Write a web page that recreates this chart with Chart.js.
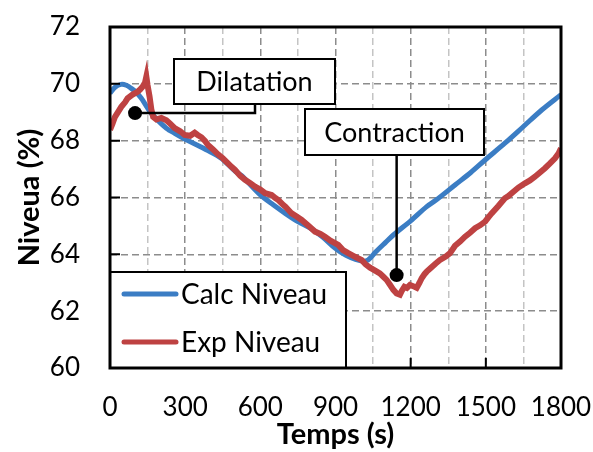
<!DOCTYPE html>
<html>
<head>
<meta charset="utf-8">
<script src="https://cdn.jsdelivr.net/npm/chart.js@4"></script>
<style>
  html, body { margin: 0; padding: 0; background: #fff; }
  #wrap { width: 593px; height: 452px; }
</style>
</head>
<body>
<div id="wrap"><canvas id="niveauChart"></canvas></div>
<script>
// --- data ---
const calcTime   = [0, 20, 44, 65, 85, 105, 125, 145, 165, 195, 225, 260, 298, 345, 391, 444, 499, 524, 599, 650, 698, 750, 798, 850, 898, 940, 980, 1010, 1030, 1060, 1100, 1131, 1200, 1264, 1300, 1377, 1440, 1497, 1576, 1649, 1723, 1800];
const calcNiveau = [69.67, 69.88, 69.98, 69.95, 69.84, 69.7, 69.49, 69.22, 68.96, 68.68, 68.44, 68.25, 68.06, 67.86, 67.65, 67.38, 66.93, 66.78, 66.1, 65.75, 65.45, 65.15, 64.93, 64.6, 64.22, 63.97, 63.82, 63.76, 63.8, 64.08, 64.42, 64.68, 65.18, 65.68, 65.9, 66.44, 66.88, 67.32, 67.91, 68.49, 69.08, 69.62];

const expTime   = [0, 10, 20, 35, 45, 60, 70, 90, 110, 120, 130, 140, 145, 150, 158, 165, 172, 185, 205, 225, 240, 258, 280, 298, 320, 338, 350, 365, 380, 391, 410, 431, 450, 471, 485, 499, 520, 539, 560, 579, 600, 619, 645, 660, 672, 690, 700, 725, 745, 765, 790, 818, 840, 858, 880, 911, 930, 951, 975, 1004, 1020, 1038, 1060, 1077, 1090, 1104, 1118, 1131, 1144, 1157, 1165, 1175, 1185, 1197, 1210, 1224, 1235, 1244, 1255, 1264, 1280, 1300, 1317, 1340, 1357, 1377, 1397, 1417, 1437, 1457, 1477, 1497, 1510, 1523, 1550, 1576, 1590, 1603, 1630, 1656, 1676, 1696, 1716, 1736, 1756, 1776, 1790, 1800];
const expNiveau = [68.38, 68.6, 68.84, 69.05, 69.19, 69.35, 69.49, 69.62, 69.72, 69.8, 69.9, 70.05, 70.25, 69.95, 69.55, 69.1, 68.84, 68.75, 68.8, 68.72, 68.6, 68.44, 68.33, 68.2, 68.17, 68.28, 68.2, 68.12, 67.98, 67.85, 67.7, 67.52, 67.38, 67.2, 67.08, 66.97, 66.76, 66.62, 66.5, 66.38, 66.28, 66.15, 66.09, 65.98, 65.91, 65.75, 65.68, 65.44, 65.33, 65.21, 65.02, 64.8, 64.72, 64.62, 64.48, 64.33, 64.15, 64.04, 63.93, 63.8, 63.65, 63.53, 63.42, 63.33, 63.22, 63.1, 62.92, 62.75, 62.62, 62.58, 62.72, 62.86, 62.82, 62.92, 62.88, 62.82, 63.0, 63.16, 63.3, 63.39, 63.52, 63.68, 63.8, 63.92, 64.04, 64.3, 64.45, 64.62, 64.76, 64.92, 65.02, 65.15, 65.3, 65.44, 65.7, 65.97, 66.05, 66.15, 66.35, 66.5, 66.6, 66.73, 66.88, 67.03, 67.2, 67.38, 67.55, 67.73];

const seriesLabels = ['Calc Niveau', 'Exp Niveau'];
const xTicks = [0, 300, 600, 900, 1200, 1500, 1800];
const yTicks = [60, 62, 64, 66, 68, 70, 72];

// callouts: text and the point they mark (time, niveau)
const calloutLabels = ['Dilatation', 'Contraction'];
const calloutPoints = [[100, 68.97], [1144, 63.27]];

const BLUE = '#3b7dc4';
const RED = '#be4242';
const FONT = 'Lato, "Open Sans", sans-serif';

function toXY(xs, ys) {
    return xs.map((x, i) => ({ x: x, y: ys[i] }));
}

// frame, inner tick marks, callouts and the legend box
const decorPlugin = {
    id: 'decor',
    afterDatasetsDraw(chart) {
        const ctx = chart.ctx;
        const area = chart.chartArea;
        const xs = chart.scales.x, ys = chart.scales.y;
        ctx.save();

        // tick marks pointing into the plot
        ctx.strokeStyle = '#000';
        ctx.lineWidth = 2;
        ctx.beginPath();
        yTicks.forEach(v => {
            const py = ys.getPixelForValue(v);
            ctx.moveTo(area.left, py); ctx.lineTo(area.left + 10, py);
        });
        xTicks.forEach(v => {
            const px = xs.getPixelForValue(v);
            ctx.moveTo(px, area.bottom); ctx.lineTo(px, area.bottom - 10);
        });
        ctx.stroke();

        // callouts
        ctx.font = '27px ' + FONT;
        ctx.textAlign = 'center';
        ctx.textBaseline = 'middle';
        const boxes = [[174, 59, 161, 45], [305, 109, 179, 46]];
        calloutPoints.forEach((p, i) => {
            const dx = xs.getPixelForValue(p[0]);
            const dy = ys.getPixelForValue(p[1]);
            const b = boxes[i];
            ctx.strokeStyle = '#000';
            ctx.lineWidth = 2.5;
            ctx.beginPath();
            if (i === 0) {
                ctx.moveTo(dx, dy); ctx.lineTo(255, dy); ctx.lineTo(255, b[1] + b[3]);
            } else {
                ctx.moveTo(dx, b[1] + b[3]); ctx.lineTo(dx, dy);
            }
            ctx.stroke();
            ctx.fillStyle = '#000';
            ctx.beginPath();
            ctx.arc(dx, dy, 7, 0, Math.PI * 2);
            ctx.fill();

            ctx.fillStyle = '#fff';
            ctx.fillRect(b[0], b[1], b[2], b[3]);
            ctx.lineWidth = 2;
            ctx.strokeRect(b[0], b[1], b[2], b[3]);
            ctx.fillStyle = '#000';
            ctx.fillText(calloutLabels[i], b[0] + b[2] / 2, b[1] + b[3] / 2 + 1);
        });

        // legend box in the lower left corner
        const lg = [area.left, 272, 236, area.bottom - 272];
        ctx.fillStyle = '#fff';
        ctx.fillRect(lg[0], lg[1], lg[2], lg[3]);
        ctx.strokeStyle = '#000';
        ctx.lineWidth = 2;
        ctx.strokeRect(lg[0], lg[1], lg[2], lg[3]);
        ctx.textAlign = 'left';
        ctx.font = '28px ' + FONT;
        chart.data.datasets.forEach((ds, i) => {
            const ly = 294 + i * 48;
            ctx.strokeStyle = ds.borderColor;
            ctx.lineWidth = 5;
            ctx.lineCap = 'round';
            ctx.beginPath();
            ctx.moveTo(124, ly); ctx.lineTo(176, ly);
            ctx.stroke();
            ctx.fillStyle = '#000';
            ctx.fillText(ds.label, 181, ly + 1);
        });

        // plot frame
        ctx.lineCap = 'butt';
        ctx.strokeStyle = '#000';
        ctx.lineWidth = 3;
        ctx.strokeRect(area.left, area.top, area.right - area.left, area.bottom - area.top);
        ctx.restore();
    }
};

const chart = new Chart(document.getElementById('niveauChart'), {
    type: 'line',
    data: {
        datasets: [{
            label: seriesLabels[0],
            data: toXY(calcTime, calcNiveau),
            borderColor: BLUE,
            borderWidth: 5,
            pointRadius: 0,
            tension: 0.3,
            order: 1
        }, {
            label: seriesLabels[1],
            data: toXY(expTime, expNiveau),
            borderColor: RED,
            borderWidth: 6,
            pointRadius: 0,
            tension: 0,
            order: 0
        }]
    },
    options: {
        responsive: true,
        maintainAspectRatio: false,
        animation: false,
        events: [],
        layout: { padding: { top: 27, right: 32, left: 0, bottom: 0 } },
        plugins: { legend: { display: false }, tooltip: { enabled: false } },
        scales: {
            x: {
                type: 'linear',
                min: 0, max: 1800,
                afterFit: (s) => { s.height = 84; s.paddingLeft = 0; s.paddingRight = 0; },
                ticks: {
                    stepSize: 150,
                    autoSkip: false,
                    maxRotation: 0,
                    padding: 24,
                    color: '#000',
                    font: { family: FONT, size: 26 },
                    callback: (v) => xTicks.includes(v) ? String(v) : ''
                },
                grid: {
                    drawTicks: false,
                    lineWidth: 1.5,
                    color: (c) => (c.tick && c.tick.value % 300 === 0) ? '#8c8c8c' : '#c4c4c4'
                },
                border: { display: false, dash: [7, 4] },
                title: {
                    display: true,
                    text: 'Temps (s)',
                    color: '#000',
                    font: { family: FONT, size: 29, weight: 'bold' },
                    padding: { top: 0, bottom: 0 }
                }
            },
            y: {
                min: 60, max: 72,
                afterFit: (s) => { s.width = 110; s.paddingTop = 0; s.paddingBottom = 0; },
                ticks: {
                    stepSize: 2,
                    padding: 30,
                    color: '#000',
                    font: { family: FONT, size: 26 }
                },
                grid: { drawTicks: false, lineWidth: 1.5, color: '#8c8c8c' },
                border: { display: false, dash: [7, 4] },
                title: {
                    display: true,
                    text: 'Niveua (%)',
                    color: '#000',
                    font: { family: FONT, size: 29, weight: 'bold' },
                    padding: { top: 12, bottom: 0 }
                }
            }
        }
    },
    plugins: [decorPlugin]
});
</script>
</body>
</html>
